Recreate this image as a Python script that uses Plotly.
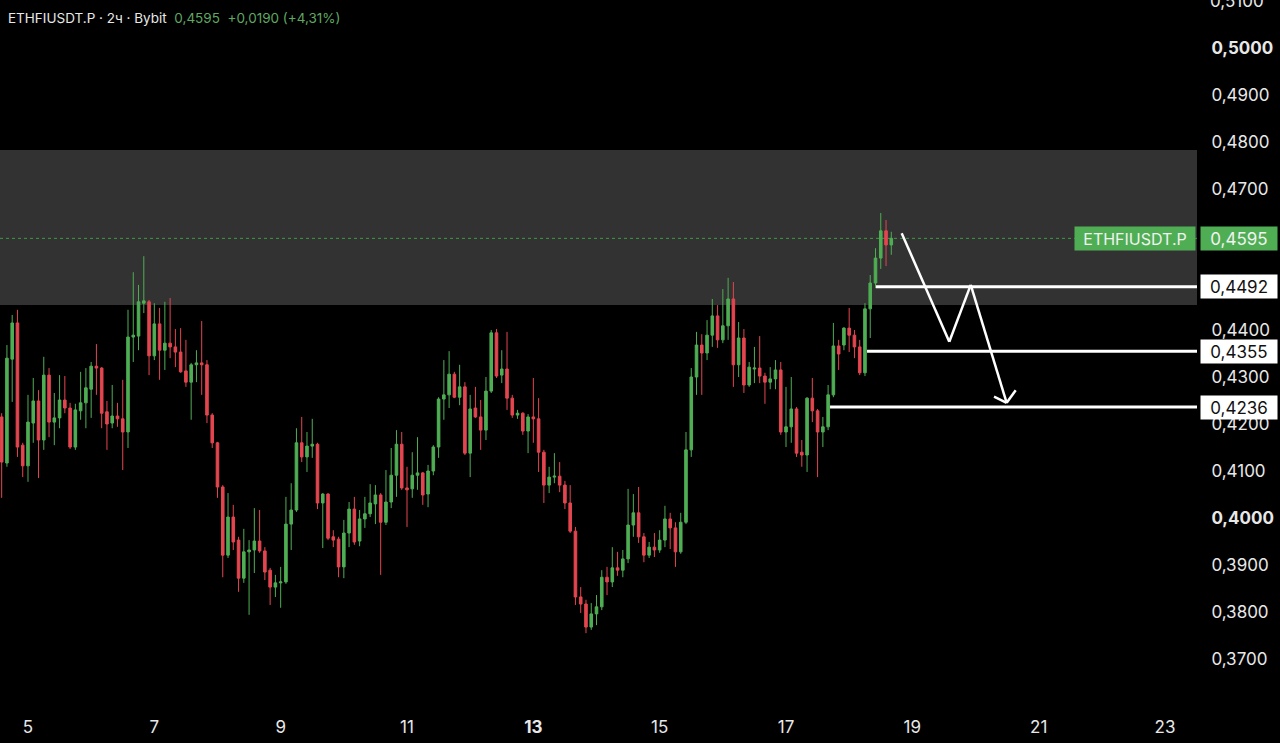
import pandas as pd
import plotly.graph_objects as go

# ---------------- data ----------------
header_main = "ETHFIUSDT.P · 2ч · Bybit"
header_quote = "0,4595&nbsp;&nbsp;+0,0190 (+4,31%)"
symbol = "ETHFIUSDT.P"
last_price = 0.4595
last_label = "0,4595"
start_time = "2025-06-04 14:00"
bar_freq = "2h"

open_ = [
    .4215, .4117, .4338, .4415, .4155, .4111, .4202, .4249, .4166, .4304,
    .4204, .4213, .4251, .4234, .4151, .4228, .4245, .4274, .4323, .4319,
    .4226, .4202, .4217, .4211, .4183, .4385, .4387, .4457, .4460, .4345,
    .4413, .4357, .4372, .4364, .4353, .4313, .4289, .4326, .4330, .4326,
    .4219, .4160, .4066, .3921, .4002, .3953, .3872, .3928, .3932, .3951,
    .3930, .3889, .3853, .3862, .3864, .3987, .4017, .4160, .4130, .4153,
    .4157, .4032, .4051, .3960, .3955, .3896, .3968, .4019, .3951, .3998,
    .4009, .4030, .4049, .3991, .4034, .4091, .4157, .4064, .4062, .4091,
    .4096, .4051, .4100, .4151, .4253, .4262, .4306, .4257, .4279, .4138,
    .4234, .4215, .4187, .4270, .4394, .4304, .4317, .4255, .4219, .4223,
    .4185, .4215, .4211, .4140, .4070, .4087, .4089, .4070, .4032, .3972,
    .3832, .3817, .3768, .3796, .3811, .3874, .3864, .3894, .3889, .3913,
    .3985, .4011, .3960, .3921, .3938, .3932, .3953, .3998, .3979, .3928,
    .3991, .4145, .4300, .4368, .4351, .4389, .4430, .4379, .4409, .4466,
    .4326, .4383, .4283, .4317, .4319, .4302, .4289, .4296, .4315, .4183,
    .4194, .4232, .4140, .4134, .4255, .4228, .4183, .4194, .4262, .4366,
    .4368, .4404, .4389, .4364, .4309, .4445, .4500, .4553, .4611, .4581,
]
high = [
    .4223, .4368, .4432, .4443, .4160, .4262, .4298, .4272, .4343, .4319,
    .4266, .4304, .4302, .4245, .4243, .4311, .4319, .4332, .4370, .4321,
    .4249, .4283, .4245, .4294, .4443, .4523, .4496, .4557, .4464, .4457,
    .4447, .4460, .4468, .4402, .4404, .4379, .4330, .4357, .4419, .4336,
    .4223, .4162, .4070, .4053, .4028, .3960, .3977, .3953, .4021, .4017,
    .3938, .3894, .3879, .3896, .4045, .4074, .4191, .4215, .4183, .4211,
    .4160, .4053, .4053, .3974, .3960, .3996, .4034, .4045, .4017, .4045,
    .4072, .4070, .4053, .4102, .4149, .4187, .4183, .4109, .4140, .4172,
    .4098, .4113, .4155, .4257, .4336, .4355, .4311, .4326, .4289, .4262,
    .4279, .4251, .4300, .4400, .4402, .4357, .4396, .4262, .4230, .4225,
    .4221, .4298, .4255, .4145, .4109, .4138, .4119, .4079, .4070, .3981,
    .3853, .3826, .3819, .3836, .3889, .3896, .3938, .3928, .3932, .4062,
    .4051, .4066, .3968, .3949, .3968, .3974, .4026, .4011, .3991, .4011,
    .4183, .4319, .4396, .4391, .4421, .4466, .4453, .4487, .4511, .4502,
    .4417, .4402, .4332, .4364, .4387, .4309, .4321, .4336, .4332, .4279,
    .4300, .4236, .4166, .4257, .4298, .4232, .4215, .4283, .4415, .4379,
    .4406, .4447, .4400, .4379, .4457, .4517, .4574, .4649, .4634, .4609,
]
low = [
    .4043, .4109, .4247, .4130, .4087, .4077, .4160, .4085, .4145, .4172,
    .4155, .4191, .4223, .4147, .4145, .4209, .4191, .4213, .4262, .4191,
    .4145, .4191, .4194, .4102, .4149, .4332, .4357, .4436, .4304, .4336,
    .4294, .4315, .4340, .4321, .4309, .4279, .4209, .4289, .4262, .4202,
    .4149, .4043, .3874, .3915, .3932, .3843, .3862, .3794, .3883, .3926,
    .3868, .3815, .3832, .3809, .3860, .3932, .4013, .4119, .4098, .4128,
    .4019, .3936, .3953, .3938, .3874, .3872, .3938, .3943, .3940, .3979,
    .4002, .3987, .3879, .3985, .4021, .4045, .4060, .3981, .4043, .4060,
    .4028, .4023, .4091, .4128, .4209, .4234, .4255, .4240, .4134, .4087,
    .4213, .4145, .4166, .4266, .4298, .4287, .4230, .4213, .4211, .4177,
    .4138, .4160, .4098, .4032, .4053, .4074, .4055, .4019, .3968, .3815,
    .3798, .3755, .3762, .3772, .3804, .3836, .3853, .3877, .3874, .3904,
    .3960, .3947, .3906, .3915, .3917, .3926, .3938, .3934, .3896, .3924,
    .3987, .4130, .4262, .4262, .4336, .4364, .4362, .4372, .4379, .4279,
    .4300, .4266, .4279, .4287, .4287, .4243, .4274, .4274, .4177, .4151,
    .4160, .4130, .4109, .4098, .4204, .4087, .4151, .4187, .4257, .4315,
    .4357, .4353, .4340, .4304, .4302, .4383, .4489, .4530, .4536, .4560,
]
close = [
    .4119, .4340, .4415, .4151, .4111, .4204, .4249, .4166, .4304, .4204,
    .4213, .4251, .4234, .4151, .4230, .4245, .4277, .4323, .4319, .4223,
    .4200, .4217, .4211, .4183, .4385, .4389, .4460, .4462, .4345, .4413,
    .4357, .4372, .4364, .4353, .4311, .4289, .4326, .4330, .4326, .4219,
    .4160, .4066, .3921, .4002, .3949, .3872, .3928, .3932, .3951, .3930,
    .3885, .3853, .3862, .3864, .3987, .4017, .4160, .4130, .4153, .4157,
    .4032, .4051, .3957, .3953, .3896, .3968, .4019, .3949, .3998, .4009,
    .4032, .4049, .3991, .4034, .4091, .4157, .4064, .4060, .4091, .4096,
    .4049, .4100, .4151, .4253, .4262, .4306, .4257, .4279, .4138, .4232,
    .4215, .4187, .4270, .4394, .4302, .4317, .4255, .4219, .4223, .4185,
    .4215, .4211, .4140, .4070, .4087, .4089, .4070, .4032, .3972, .3832,
    .3817, .3768, .3796, .3811, .3874, .3864, .3894, .3889, .3913, .3985,
    .4011, .3960, .3921, .3938, .3932, .3953, .3998, .3979, .3928, .3991,
    .4145, .4300, .4368, .4351, .4389, .4430, .4379, .4409, .4466, .4326,
    .4383, .4283, .4321, .4319, .4302, .4289, .4296, .4315, .4183, .4194,
    .4232, .4138, .4134, .4255, .4228, .4183, .4194, .4262, .4366, .4349,
    .4404, .4389, .4364, .4309, .4445, .4500, .4553, .4611, .4581, .4595,
]

# resistance zone and drawn levels
zone_low = 0.4453
zone_high = 0.4783
levels = [0.4492, 0.4355, 0.4236]
level_labels = ["0,4492", "0,4355", "0,4236"]
level_starts = ["2025-06-18 10:11", "2025-06-18 06:46", "2025-06-17 16:42"]

# drawn zig-zag projection
path_times = ["2025-06-18 19:57", "2025-06-19 14:02", "2025-06-19 22:11", "2025-06-20 11:50"]
path_prices = [0.4606, 0.4375, 0.4496, 0.4245]
head_times = ["2025-06-20 07:02", "2025-06-20 11:50", "2025-06-20 15:16"]
head_prices = [0.4258, 0.4245, 0.4272]

# axes (0,4500 / 0,4600 sit under the price labels and are not shown)
y_tick_vals = [0.37, 0.38, 0.39, 0.40, 0.41, 0.42, 0.43, 0.44, 0.47, 0.48, 0.49, 0.50]
y_tick_text = ["0,3700", "0,3800", "0,3900", "<b>0,4000</b>", "0,4100", "0,4200", "0,4300", "0,4400",
               "0,4700", "0,4800", "0,4900", "<b>0,5000</b>"]
top_tick_val = 0.51
top_tick_text = "0,5100"
x_tick_vals = ["2025-06-05", "2025-06-07", "2025-06-09", "2025-06-11", "2025-06-13",
               "2025-06-15", "2025-06-17", "2025-06-19", "2025-06-21", "2025-06-23"]
x_tick_text = ["5", "7", "9", "11", "<b>13</b>", "15", "17", "19", "21", "23"]
x_range = ["2025-06-04 13:22", "2025-06-23 12:09"]
y_range = [0.36128, 0.51021]

# ---------------- styling ----------------
GREEN = "#4fae54"
RED = "#e3464f"
TXT = "#e8e8e8"
FONT = "Inter"

times = pd.date_range(start_time, periods=len(open_), freq=bar_freq)

fig = go.Figure()
fig.add_trace(go.Candlestick(
    x=times, open=open_, high=high, low=low, close=close,
    increasing=dict(line=dict(color=GREEN, width=1), fillcolor=GREEN),
    decreasing=dict(line=dict(color=RED, width=1), fillcolor=RED),
    whiskerwidth=0, hoverinfo="skip", showlegend=False,
))

shapes = []
shapes.append(dict(type="rect", xref="paper", yref="y", x0=0, x1=1, y0=zone_low, y1=zone_high,
                   fillcolor="#323232", line=dict(width=0), layer="below"))
shapes.append(dict(type="line", xref="paper", yref="y", x0=0, x1=1, y0=last_price, y1=last_price,
                   line=dict(color="#3f9a45", width=1, dash="dot"), layer="below"))
for lv, st in zip(levels, level_starts):
    shapes.append(dict(type="line", xref="x", yref="y", x0=st, x1=x_range[1], y0=lv, y1=lv,
                       line=dict(color="#ffffff", width=3)))
for i in range(len(path_times) - 1):
    shapes.append(dict(type="line", xref="x", yref="y",
                       x0=path_times[i], x1=path_times[i + 1], y0=path_prices[i], y1=path_prices[i + 1],
                       line=dict(color="#ffffff", width=2.5)))
for i in range(len(head_times) - 1):
    shapes.append(dict(type="line", xref="x", yref="y",
                       x0=head_times[i], x1=head_times[i + 1], y0=head_prices[i], y1=head_prices[i + 1],
                       line=dict(color="#ffffff", width=2.5)))

annotations = []
annotations.append(dict(
    xref="paper", yref="paper", x=6 / 1197, y=1 - 18 / 700, xanchor="left", yanchor="middle",
    text=f"{header_main}&nbsp;&nbsp;<span style='color:#5fa863'>{header_quote}</span>",
    showarrow=False, font=dict(family=FONT, size=13.5, color=TXT)))
annotations.append(dict(
    xref="paper", yref="y", x=1208 / 1197, y=top_tick_val, xanchor="left", yanchor="middle",
    text=top_tick_text, showarrow=False, font=dict(family=FONT, size=17, color=TXT)))
annotations.append(dict(
    xref="paper", yref="y", x=1196 / 1197, y=last_price, xanchor="right", yanchor="middle",
    text=symbol, showarrow=False, bgcolor=GREEN, width=116, height=19, borderpad=2,
    font=dict(family=FONT, size=16, color="#f2f2f2")))
annotations.append(dict(
    xref="paper", yref="y", x=1200 / 1197, y=last_price, xanchor="left", yanchor="middle",
    text=last_label, showarrow=False, bgcolor=GREEN, width=72, height=19, borderpad=2,
    font=dict(family=FONT, size=17, color="#f2f2f2")))
for lv, lab in zip(levels, level_labels):
    annotations.append(dict(
        xref="paper", yref="y", x=1200 / 1197, y=lv, xanchor="left", yanchor="middle",
        text=lab, showarrow=False, bgcolor="#ffffff", width=72, height=19, borderpad=2,
        font=dict(family=FONT, size=17, color="#111111")))

fig.update_layout(
    width=1280, height=743,
    margin=dict(l=0, r=83, t=0, b=43),
    paper_bgcolor="#000000", plot_bgcolor="#000000",
    font=dict(family=FONT, color=TXT),
    shapes=shapes, annotations=annotations,
    showlegend=False, hovermode=False,
    xaxis=dict(
        type="date", range=x_range, rangeslider=dict(visible=False),
        tickvals=x_tick_vals, ticktext=x_tick_text,
        ticks="outside", ticklen=12, tickcolor="rgba(0,0,0,0)",
        showgrid=False, zeroline=False, showline=False,
        tickfont=dict(family=FONT, size=17, color=TXT),
    ),
    yaxis=dict(
        side="right", range=y_range,
        tickvals=y_tick_vals, ticktext=y_tick_text,
        ticks="outside", ticklen=10, tickcolor="rgba(0,0,0,0)",
        showgrid=False, zeroline=False, showline=False,
        tickfont=dict(family=FONT, size=17, color=TXT),
    ),
)

fig.write_html(
    "out.html",
    config={"displayModeBar": False},
    post_script="document.body.style.margin='0';document.body.style.background='#000';"
                "document.documentElement.style.overflow='hidden';",
)
